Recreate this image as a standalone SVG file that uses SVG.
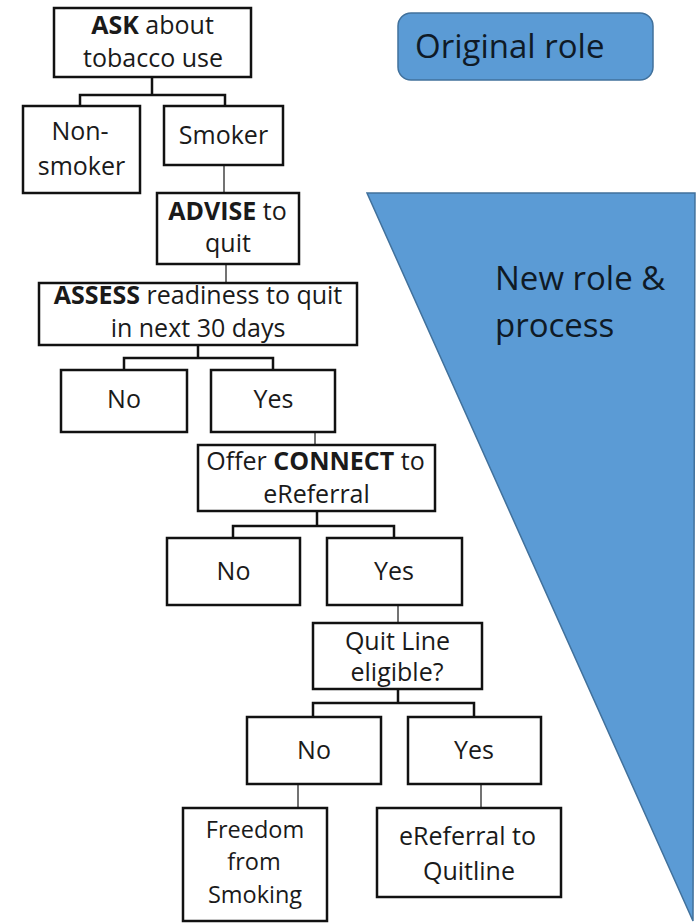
<svg xmlns="http://www.w3.org/2000/svg" width="697" height="923" viewBox="0 0 697 923">
<style>
.bg{fill:#fff}
.box{fill:#fff;stroke:#111;stroke-width:2.5}
.t{font-family:"Open Sans","Noto Sans","Liberation Sans",sans-serif;font-size:25px;fill:#1a1a1a;text-anchor:middle}
.s{font-size:23.5px}
.b{font-weight:bold}
.lbl{font-family:"Open Sans","Noto Sans","Liberation Sans",sans-serif;font-size:33px;fill:#0f1a26}
.blue{fill:#5B9BD5;stroke:#41719C;stroke-width:1.5}
.elbow{fill:none;stroke:#111;stroke-width:2.5}
.stem{fill:none;stroke:#444;stroke-width:1.5}
</style>
<rect class="bg" x="0" y="0" width="697" height="923"/>
<g id="original-role">
<rect class="blue" x="398" y="13" width="255" height="67" rx="13"/>
<text class="lbl" x="415" y="58">Original role</text>
</g>
<g id="new-role">
<polygon class="blue" points="367,193 695,193 693,921"/>
<text class="lbl" x="495" y="290">New role &amp;</text>
<text class="lbl" x="495" y="337">process</text>
</g>
<g id="connectors">
<path class="elbow" d="M152,77 V95 M80,106 V95 H225 V106"/>
<path class="stem" d="M224,165 V193"/>
<path class="stem" d="M226,264 V283"/>
<path class="elbow" d="M198,345 V358 M124,370 V358 H273 V370"/>
<path class="stem" d="M315,432 V445"/>
<path class="elbow" d="M317,511 V526 M233,538 V526 H394 V538"/>
<path class="stem" d="M398,605 V623"/>
<path class="elbow" d="M398,689 V703 M313,717 V703 H474 V717"/>
<path class="stem" d="M298,784 V808"/>
<path class="stem" d="M481,784 V808"/>
</g>
<g id="ask">
<rect class="box" x="54" y="8" width="197" height="69"/>
<text class="t" x="152.5" y="34"><tspan class="b">ASK</tspan> about</text>
<text class="t" x="153" y="67">tobacco use</text>
</g>
<g id="non-smoker">
<rect class="box" x="23" y="106" width="117" height="87"/>
<text class="t" x="80" y="140">Non-</text>
<text class="t" x="81.5" y="175">smoker</text>
</g>
<g id="smoker">
<rect class="box" x="164" y="106" width="119" height="59"/>
<text class="t" x="223.5" y="144">Smoker</text>
</g>
<g id="advise">
<rect class="box" x="157" y="193" width="142" height="71"/>
<text class="t" x="227.5" y="220"><tspan class="b">ADVISE</tspan> to</text>
<text class="t" x="228" y="252">quit</text>
</g>
<g id="assess">
<rect class="box" x="39" y="283" width="318" height="62"/>
<text class="t" x="198" y="304"><tspan class="b">ASSESS</tspan> readiness to quit</text>
<text class="t" x="198" y="337">in next 30 days</text>
</g>
<g id="assess-no">
<rect class="box" x="61" y="370" width="126" height="62"/>
<text class="t" x="124" y="408">No</text>
</g>
<g id="assess-yes">
<rect class="box" x="211" y="370" width="124" height="62"/>
<text class="t" x="273.5" y="408">Yes</text>
</g>
<g id="connect">
<rect class="box" x="198" y="445" width="237" height="66"/>
<text class="t" x="315.5" y="470">Offer <tspan class="b">CONNECT</tspan> to</text>
<text class="t" x="316.5" y="503">eReferral</text>
</g>
<g id="connect-no">
<rect class="box" x="167" y="538" width="133" height="67"/>
<text class="t" x="233.5" y="580">No</text>
</g>
<g id="connect-yes">
<rect class="box" x="327" y="538" width="135" height="67"/>
<text class="t" x="394" y="580">Yes</text>
</g>
<g id="eligible">
<rect class="box" x="313" y="623" width="169" height="66"/>
<text class="t" x="397.5" y="650">Quit Line</text>
<text class="t" x="397" y="681">eligible?</text>
</g>
<g id="eligible-no">
<rect class="box" x="247" y="717" width="134" height="67"/>
<text class="t" x="314" y="759">No</text>
</g>
<g id="eligible-yes">
<rect class="box" x="408" y="717" width="133" height="67"/>
<text class="t" x="474" y="759">Yes</text>
</g>
<g id="freedom">
<rect class="box" x="183" y="808" width="144" height="113"/>
<text class="t s" x="255" y="838">Freedom</text>
<text class="t s" x="254" y="870">from</text>
<text class="t s" x="255" y="903">Smoking</text>
</g>
<g id="ereferral">
<rect class="box" x="377" y="808" width="184" height="89"/>
<text class="t" x="467.5" y="845">eReferral to</text>
<text class="t" x="469" y="880">Quitline</text>
</g>
</svg>
